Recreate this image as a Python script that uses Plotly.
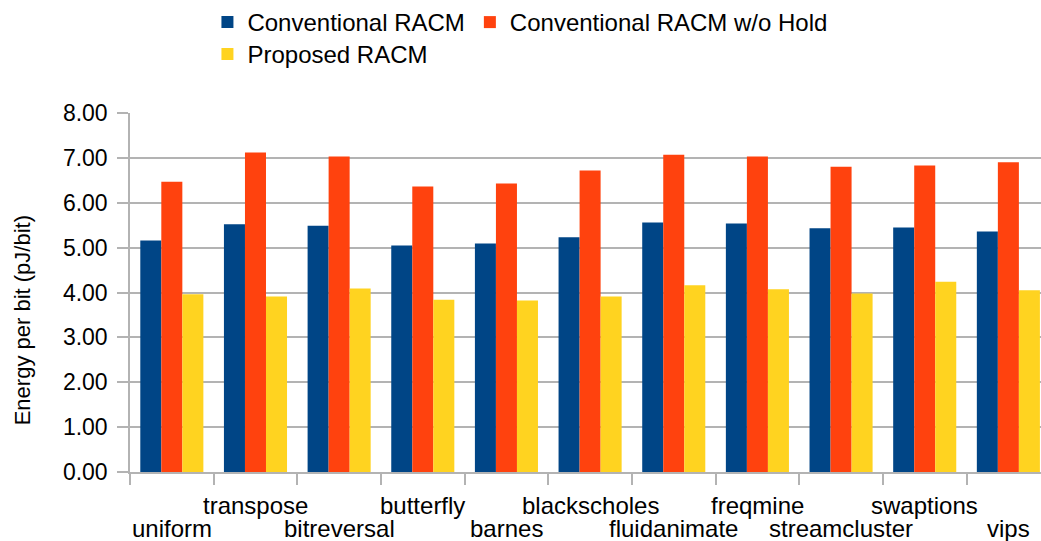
import plotly.graph_objects as go

# Benchmarks and energy per bit (pJ/bit) for each RACM variant
benchmarks = ["uniform", "transpose", "bitreversal", "butterfly", "barnes",
              "blackscholes", "fluidanimate", "freqmine", "streamcluster",
              "swaptions", "vips"]
conventional = [5.16, 5.52, 5.49, 5.05, 5.09, 5.23, 5.56, 5.54, 5.43, 5.45, 5.36]
conventional_no_hold = [6.47, 7.12, 7.03, 6.36, 6.43, 6.72, 7.07, 7.03, 6.80, 6.83, 6.90]
proposed = [3.96, 3.91, 4.09, 3.84, 3.82, 3.91, 4.16, 4.07, 3.98, 4.24, 4.05]

series_names = ["Conventional RACM", "Conventional RACM w/o Hold", "Proposed RACM"]
series_colors = ["#004586", "#ff420e", "#ffd320"]
y_ticks = [0, 1, 2, 3, 4, 5, 6, 7, 8]
y_title = "Energy per bit (pJ/bit)"

FONT = "Liberation Sans, Arial, sans-serif"
GRID = "#b3b3b3"

fig = go.Figure()
for name, vals, color, leg in zip(series_names,
                                  [conventional, conventional_no_hold, proposed],
                                  series_colors,
                                  ["legend", "legend", "legend2"]):
    fig.add_trace(go.Bar(x=benchmarks, y=vals, name=name,
                         marker=dict(color=color, line=dict(width=0)),
                         legend=leg))

# Category labels alternate between two rows under the axis
for i, name in enumerate(benchmarks):
    fig.add_annotation(x=name, y=0, xref="x", yref="y", text=name,
                       showarrow=False, yanchor="middle",
                       yshift=-33 if i % 2 else -56,
                       font=dict(family=FONT, size=24, color="#000000"))

# Vertical axis title, set a little below the middle of the axis
fig.add_annotation(x=-108 / 911, y=3.38, xref="paper", yref="y",
                   text=y_title, textangle=-90, showarrow=False,
                   xanchor="center", yanchor="middle",
                   font=dict(family=FONT, size=22, color="#000000"))

legend_common = dict(orientation="h", xanchor="left", yanchor="top",
                     yref="container", bgcolor="rgba(0,0,0,0)",
                     font=dict(family=FONT, size=24, color="#000000"),
                     itemclick=False, itemdoubleclick=False)

fig.update_layout(
    width=1041, height=541,
    margin=dict(l=130, r=0, t=113, b=69),
    paper_bgcolor="white", plot_bgcolor="white",
    barmode="group", bargap=0.246, bargroupgap=0,
    showlegend=True,
    legend=dict(x=0.085, y=1.0, **legend_common),
    legend2=dict(x=0.085, y=1 - 32 / 541, **legend_common),
    font=dict(family=FONT, color="#000000"),
    xaxis=dict(type="category", range=[-0.5, 10.39],
               showticklabels=False, ticks="outside", tickson="boundaries",
               ticklen=11, tickcolor=GRID, tickwidth=1.5,
               showline=True, linecolor=GRID, linewidth=1.5,
               showgrid=False, zeroline=False),
    yaxis=dict(range=[0, 8], tickvals=y_ticks, tickformat=".2f",
               ticks="outside", ticklen=11, tickcolor=GRID, tickwidth=1.5,
               showline=True, linecolor=GRID, linewidth=1.5,
               showgrid=True, gridcolor=GRID, gridwidth=1.5,
               zeroline=False, ticklabelstandoff=5,
               tickfont=dict(family=FONT, size=23, color="#000000")),
)

fig.write_html("out.html")
